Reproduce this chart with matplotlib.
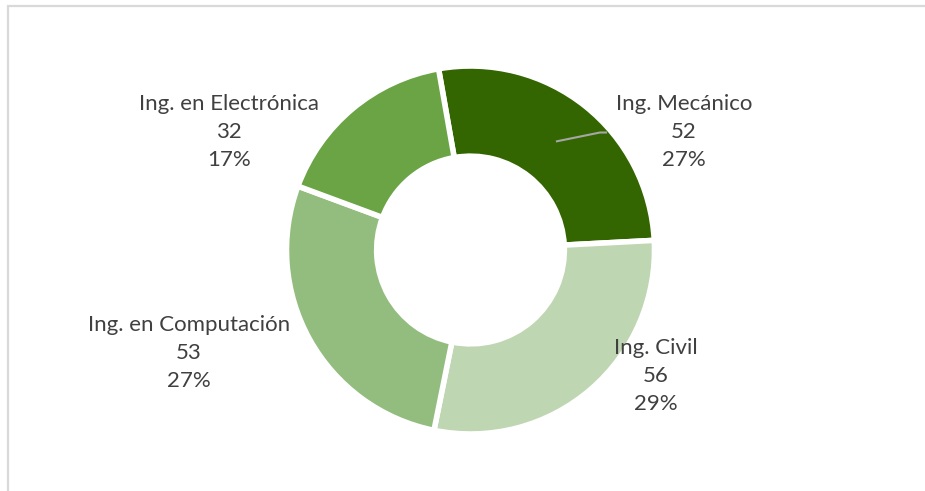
import numpy as np
import matplotlib.pyplot as plt
from matplotlib.patches import Rectangle

plt.rcParams['font.family'] = ['Lato', 'DejaVu Sans']

carreras = ['Ing. Mecánico', 'Ing. Civil', 'Ing. en Computación', 'Ing. en Electrónica']
alumnos = [52, 56, 53, 32]
colores = ['#336600', '#bfd6b3', '#93bd7e', '#6aa444']

# label centres in pixel units (x from left, y from bottom)
pos_etiquetas = [(684, 359), (656, 115), (189, 138), (229, 359)]

W, H = 925, 491
fig = plt.figure(figsize=(W / 100, H / 100), dpi=100)
ax = fig.add_axes([0, 0, 1, 1])

# chart border (right and bottom edges fall outside the image)
fig.patches.append(Rectangle((7.5 / W, -0.1), 1.2, (H - 5.5) / H + 0.1,
                             transform=fig.transFigure, fill=False,
                             edgecolor='#d9d9d9', linewidth=1.6))

cx, cy, radio, ancho = 470.5, 241, 184, 0.49
wedges, _ = ax.pie(alumnos, colors=colores, startangle=100, counterclock=False,
                   center=(cx, cy), radius=radio, frame=True,
                   wedgeprops=dict(width=radio * ancho, edgecolor='white', linewidth=4))
ax.set_xlim(0, W)
ax.set_ylim(0, H)
ax.set_aspect('equal')
ax.axis('off')

total = sum(alumnos)
for w, nombre, v, (tx, ty) in zip(wedges, carreras, alumnos, pos_etiquetas):
    ax.text(tx, ty, f'{nombre}\n{v}\n{round(100 * v / total)}%', ha='center', va='center',
            fontsize=16, color='#404040', linespacing=1.48)

# leader line for the first slice
w = wedges[0]
ang = np.deg2rad((w.theta1 + w.theta2) / 2)
r_mid = radio * (1 - ancho / 2)
x0, y0 = cx + r_mid * np.cos(ang), cy + r_mid * np.sin(ang)
tx, ty = pos_etiquetas[0]
ax.plot([x0, tx - 84, tx - 78], [y0, ty - 0.5, ty - 0.5], color='#a6a6a6', linewidth=1.5)

fig.savefig('out.png', dpi=100)
